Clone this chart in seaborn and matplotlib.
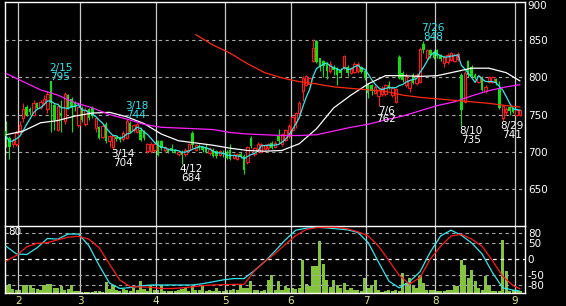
import numpy as np
import pandas as pd
import matplotlib
matplotlib.use("Agg")
import matplotlib.pyplot as plt
import matplotlib.transforms as mtransforms
import seaborn as sns

# ---------------- data ----------------
opens = [728, 719, 710, 711, 727, 745, 760, 758, 750, 765,
         760, 765, 758, 795, 763, 730, 752, 741, 776, 771,
         765, 736, 759, 738, 757, 759, 732, 733, 720, 738,
         714, 707, 720, 720, 717, 719, 739, 729, 727, 730,
         728, 701, 701, 702, 714, 714, 703, 703, 705, 702,
         697, 700, 697, 703, 725, 703, 708, 706, 707, 698,
         703, 701, 696, 699, 699, 702, 692, 691, 697, 694,
         686, 719, 697, 702, 700, 704, 705, 712, 707, 721,
         710, 716, 721, 730, 740, 752, 781, 790, 791, 822,
         849, 825, 821, 818, 808, 814, 812, 810, 812, 814,
         806, 807, 808, 813, 808, 790, 789, 779, 775, 778,
         777, 790, 776, 767, 827, 805, 790, 785, 803, 792,
         794, 845, 825, 836, 834, 836, 829, 819, 820, 823,
         822, 824, 803, 767, 821, 814, 803, 794, 799, 781,
         794, 794, 797, 785, 745, 753, 760, 758, 750, 750]
highs = [741, 722, 718, 728, 741, 765, 763, 760, 770, 767,
         770, 776, 782, 795, 765, 765, 770, 780, 778, 773,
         768, 762, 761, 760, 759, 761, 747, 735, 737, 740,
         723, 723, 722, 722, 728, 744, 741, 738, 739, 733,
         730, 712, 713, 712, 716, 716, 708, 705, 710, 704,
         702, 703, 705, 712, 728, 711, 710, 708, 710, 706,
         705, 703, 703, 702, 703, 710, 698, 699, 700, 697,
         708, 722, 707, 713, 712, 711, 712, 714, 714, 731,
         726, 731, 737, 748, 754, 768, 801, 803, 800, 851,
         850, 826, 823, 820, 822, 816, 813, 812, 830, 816,
         814, 820, 820, 815, 810, 792, 791, 790, 786, 788,
         791, 795, 788, 786, 829, 808, 805, 798, 805, 805,
         840, 848, 838, 838, 836, 838, 831, 830, 832, 834,
         832, 833, 805, 808, 823, 816, 805, 803, 801, 790,
         802, 802, 799, 795, 762, 760, 762, 760, 757, 758]
lows = [707, 691, 706, 708, 725, 740, 748, 750, 748, 757,
        758, 763, 752, 727, 730, 728, 727, 738, 757, 727,
        755, 733, 740, 735, 743, 745, 727, 717, 718, 712,
        707, 704, 714, 713, 714, 717, 725, 727, 725, 714,
        716, 699, 699, 700, 694, 703, 700, 699, 700, 698,
        695, 684, 695, 700, 705, 701, 703, 700, 698, 696,
        693, 692, 694, 693, 690, 689, 690, 689, 692, 670,
        684, 705, 695, 700, 698, 702, 703, 704, 705, 712,
        708, 714, 718, 727, 732, 748, 768, 788, 786, 820,
        819, 808, 800, 797, 806, 803, 790, 800, 810, 802,
        804, 805, 806, 805, 796, 772, 776, 777, 762, 775,
        775, 784, 773, 765, 797, 794, 787, 780, 791, 790,
        792, 832, 823, 826, 824, 825, 822, 814, 818, 821,
        820, 822, 735, 765, 800, 800, 797, 792, 781, 779,
        792, 792, 790, 757, 741, 750, 749, 752, 748, 748]
closes = [721, 707, 716, 726, 736, 758, 750, 753, 766, 759,
          767, 771, 778, 765, 743, 761, 748, 778, 759, 759,
          760, 760, 743, 756, 745, 748, 745, 719, 735, 714,
          721, 721, 717, 716, 725, 741, 727, 736, 737, 716,
          718, 710, 711, 710, 696, 705, 707, 700, 702, 699,
          700, 696, 702, 710, 709, 709, 705, 702, 700, 704,
          695, 694, 701, 697, 692, 691, 696, 697, 694, 676,
          707, 708, 705, 711, 710, 709, 710, 705, 712, 714,
          724, 729, 735, 747, 752, 766, 799, 801, 799, 839,
          820, 813, 815, 808, 818, 810, 803, 806, 828, 805,
          812, 818, 817, 807, 799, 779, 781, 787, 783, 785,
          789, 786, 786, 784, 799, 796, 802, 796, 792, 803,
          838, 836, 836, 829, 826, 828, 824, 827, 830, 832,
          830, 831, 756, 806, 803, 801, 799, 801, 783, 787,
          800, 800, 793, 759, 761, 758, 755, 754, 756, 756]
volumes = [7, 9, 4, 3, 3, 8, 8, 8, 5, 4,
           3, 8, 9, 9, 5, 5, 7, 3, 4, 8,
           2, 2, 1, 1, 1, 1, 2, 2, 1, 11,
           4, 8, 3, 2, 4, 3, 2, 5, 3, 12,
           4, 2, 8, 3, 3, 8, 2, 2, 2, 2,
           3, 4, 5, 2, 7, 3, 3, 8, 2, 3,
           2, 5, 2, 2, 3, 3, 4, 3, 7, 5,
           5, 12, 3, 3, 2, 3, 13, 18, 3, 12,
           3, 7, 5, 5, 4, 5, 33, 9, 7, 27,
           27, 52, 29, 13, 6, 13, 8, 5, 10, 3,
           5, 3, 3, 2, 15, 5, 8, 13, 3, 1,
           2, 3, 2, 3, 2, 20, 10, 15, 8, 5,
           17, 10, 3, 3, 3, 2, 2, 2, 3, 3,
           7, 7, 33, 28, 15, 23, 12, 5, 3, 17,
           8, 2, 2, 2, 53, 22, 2, 3, 2, 2]

ma_idx = [0, 5, 10, 15, 20, 25, 30, 35, 40, 45, 50, 55, 60, 65, 70, 75,
          80, 85, 90, 95, 100, 105, 110, 115, 120, 125, 130, 135, 140, 145, 149]
ma_mid = [723, 728, 739, 742, 748, 752, 753, 747, 738, 724, 715, 712, 709, 705, 702, 701,
          702, 711, 731, 759, 776, 791, 802, 802, 801, 802, 807, 812, 812, 806, 795]
ma_long = [805, 794, 783, 776, 766, 759, 750, 744, 737, 733, 732, 731, 730, 726, 724, 723,
           722, 722, 723, 728, 733, 737, 743, 748, 755, 762, 767, 775, 782, 787, 790]
ma_vlong_idx = [55, 60, 65, 70, 75, 80, 85, 90, 95, 100, 105, 110, 115, 120, 125,
                130, 135, 140, 145, 149]
ma_vlong = [857, 843, 832, 818, 806, 799, 794, 791, 787, 785, 783, 781, 776, 773, 771,
            769, 767, 765, 762, 760]

rci_idx = list(range(0, 148, 3)) + [149]
rci_short = [40, 16, 14, 35, 64, 62, 78, 78, 42, -20,
             -75, -92, -89, -84, -81, -81, -81, -81, -81, -77,
             -71, -65, -61, -61, -36, -8, 25, 60, 90, 96,
             99, 97, 94, 91, 83, 51, -10, -69, -90, -70,
             -40, 22, 72, 90, 74, 50, 16, -42, -90, -97,
             -100]
rci_long = [-6, 11, 38, 49, 51, 60, 68, 71, 62, 35,
            -16, -66, -86, -87, -88, -92, -92, -90, -87, -83,
            -81, -80, -79, -79, -37, -8, 17, 46, 73, 92,
            98, 99, 99, 94, 85, 72, 40, -5, -51, -78,
            -58, 0, 40, 72, 77, 62, 40, -5, -54, -83,
            -93]

month_first_idx = [4, 22, 44, 64, 83, 105, 125, 148]
month_labels = ["2", "3", "4", "5", "6", "7", "8", "9"]

mark_idx = [13, 35, 121, 31, 51, 108, 132, 144]
mark_dates = ["2/15", "3/18", "7/26", "3/14", "4/12", "7/6", "8/10", "8/29"]
mark_kind = ["high", "high", "high", "low", "low", "low", "low", "low"]

price_ticks = [650, 700, 750, 800, 850, 900]
osc_ticks = [80, 50, 0, -50, -80]
osc_labels = ["80", "50", "0", "-50", "-80"]

# ---------------- style ----------------
sns.set_style("dark", {"axes.facecolor": "black", "figure.facecolor": "black"})
plt.rcParams["font.family"] = ["DejaVu Sans"]

RED = "#ff1a1a"
GREEN = "#10e010"
CYAN = "#30e8f0"
MAG = "#ff20ff"
VOLC = "#84c43c"
GRID = "#a8a8a8"
VGRID = "#c8c8c8"
YEL = "#e8e890"
FS = 7.5

W, H = 566, 306
fig = plt.figure(figsize=(W / 100, H / 100), dpi=100, facecolor="black")
L, R = 5 / W, 525 / W
main_rect = [L, 80 / H, R - L, 224 / H]
low_rect = [L, 13 / H, R - L, 67 / H]

ax = fig.add_axes(main_rect)
ax_vol = fig.add_axes(low_rect)
ax_low = fig.add_axes(low_rect)
for a in (ax, ax_vol, ax_low):
    a.set_facecolor("black")
ax_low.patch.set_alpha(0)

idx = np.arange(len(closes))
o = np.array(opens, float); hh = np.array(highs, float)
ll = np.array(lows, float); c = np.array(closes, float)
up = c >= o
body_lo = np.minimum(o, c)
body_h = np.maximum(np.abs(c - o), 0.9)
XL = (-0.3, 150.45)

# grid main
for p in price_ticks[:-1]:
    ax.axhline(p, color=GRID, lw=0.8, ls=(0, (3, 3)), zorder=1)
for m in month_first_idx:
    ax.axvline(m - 0.5, color=VGRID, lw=0.9, zorder=1)
    ax_low.axvline(m - 0.5, color=VGRID, lw=0.9, zorder=1)

# candles
ax.vlines(idx[up], ll[up], hh[up], color=RED, lw=0.8, zorder=2)
ax.vlines(idx[~up], ll[~up], hh[~up], color=GREEN, lw=0.8, zorder=2)
ax.bar(idx[up], body_h[up], bottom=body_lo[up], width=0.68, facecolor="black",
       edgecolor=RED, linewidth=0.8, zorder=3)
ax.bar(idx[~up], body_h[~up], bottom=body_lo[~up], width=0.72, color=GREEN,
       linewidth=0, zorder=3)

# moving averages
ma_short = pd.Series(c).rolling(5, min_periods=1).mean()
sns.lineplot(x=idx, y=ma_short.values, color=CYAN, lw=0.9, ax=ax, legend=False, zorder=4)
sns.lineplot(x=ma_idx, y=ma_mid, color="white", lw=0.9, ax=ax, legend=False, zorder=4)
sns.lineplot(x=ma_idx, y=ma_long, color=MAG, lw=0.9, ax=ax, legend=False, zorder=4)
sns.lineplot(x=ma_vlong_idx, y=ma_vlong, color="#ff2a10", lw=0.9, ax=ax, legend=False, zorder=4)

# high / low marks
for i, d, k in zip(mark_idx, mark_dates, mark_kind):
    if k == "high":
        ax.annotate(f"{d}\n{highs[i]}", xy=(i - 0.6, highs[i]), xytext=(0, -1),
                    textcoords="offset pixels", ha="left", va="bottom",
                    multialignment="center", linespacing=0.85, color=CYAN,
                    fontsize=FS, zorder=6)
    else:
        ax.annotate(f"{d}\n{lows[i]}", xy=(i - 0.6, lows[i]), xytext=(0, 0),
                    textcoords="offset pixels", ha="left", va="top",
                    multialignment="center", linespacing=0.85, color="white",
                    fontsize=FS, zorder=6)

ax.set_xlim(*XL)
ax.set_ylim(601, 900.5)
ax.set_xticks([])
ax.yaxis.tick_right()
ax.set_yticks(price_ticks)
ax.set_yticklabels([str(p) for p in price_ticks])
ax.tick_params(axis="y", colors="white", labelsize=FS, length=0, pad=2)
ax.set_xlabel(""); ax.set_ylabel("")
for s in ("top", "left", "right"):
    ax.spines[s].set_color("white"); ax.spines[s].set_linewidth(1)
ax.spines["bottom"].set_visible(False)
# keep the top "900" label inside the picture
top_lab = ax.get_yticklabels()[-1]
top_lab.set_transform(top_lab.get_transform() +
                      mtransforms.ScaledTranslation(0, -3 / 100, fig.dpi_scale_trans))

# volume
sns.barplot(x=idx, y=volumes, native_scale=True, color=VOLC, saturation=1,
            width=0.9, errorbar=None, linewidth=0, ax=ax_vol)
ax_vol.set_xlim(*XL)
ax_vol.set_ylim(0, 67)
ax_vol.set_axis_off()

# oscillator panel
for t in osc_ticks:
    if t == 0:
        ax_low.axhline(t, color="white", lw=0.9, ls=(0, (3, 3)), zorder=1)
    else:
        ax_low.axhline(t, color=GRID, lw=0.8, ls=(0, (3, 3)), zorder=1)
sns.lineplot(x=rci_idx, y=rci_short, color=CYAN, lw=0.9, ax=ax_low, legend=False, zorder=4)
sns.lineplot(x=rci_idx, y=rci_long, color=RED, lw=0.9, ax=ax_low, legend=False, zorder=4)
ax_low.set_xlim(*XL)
ax_low.set_ylim(-106, 103)
ax_low.yaxis.tick_right()
ax_low.set_yticks(osc_ticks)
ax_low.set_yticklabels(osc_labels)
ax_low.set_xticks([m - 0.5 for m in month_first_idx])
ax_low.set_xticklabels(month_labels)
ax_low.tick_params(axis="y", colors="white", labelsize=FS, length=0, pad=2)
ax_low.tick_params(axis="x", colors=YEL, labelsize=FS, length=0, pad=2)
ax_low.set_xlabel(""); ax_low.set_ylabel("")
for s in ax_low.spines.values():
    s.set_color("white"); s.set_linewidth(1)

fig.text(8 / W, 1 - 237 / H, "80", color="white", fontsize=FS, va="bottom", ha="left")

fig.savefig("out.png", dpi=100, facecolor="black")
